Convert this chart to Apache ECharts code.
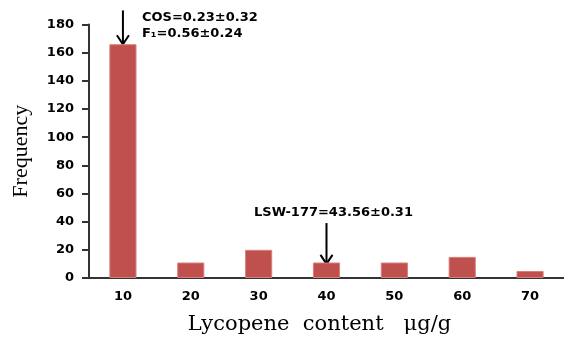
<!DOCTYPE html>
<html>
<head>
<meta charset="utf-8">
<script src="https://cdn.jsdelivr.net/npm/echarts@6/dist/echarts.min.js"></script>
<style>
  html, body { margin: 0; padding: 0; background: #fff; }
  #main { width: 564px; height: 340px; }
</style>
</head>
<body>
<div id="main"></div>
<script>
// lycopene content histogram
var categories = ['10', '20', '30', '40', '50', '60', '70'];
var frequency = [166, 11, 20, 11, 11, 15, 5];
var yTicks = { min: 0, max: 180, interval: 20 };

// arrows: [category index, start value, end value]
var arrowCos = [0, 190, 166];
var arrowLsw = [3, 39, 10];
var cosText = ['COS=0.23\u00B10.32', 'F\u2081=0.56\u00B10.24'];
var lswText = 'LSW-177=43.56\u00B10.31';

var chart = echarts.init(document.getElementById('main'), null, { renderer: 'canvas' });

var labelFont = {
  color: '#000',
  fontFamily: 'DejaVu Sans',
  fontWeight: 'bold',
  fontSize: 13
};

var option = {
  animation: false,
  grid: {
    left: 89,
    right: 0,
    top: 24.5,
    bottom: 61.7
  },
  xAxis: {
    type: 'category',
    data: categories,
    name: 'Lycopene  content   \u03BCg/g',
    nameLocation: 'middle',
    nameGap: 36,
    nameTextStyle: {
      color: '#000',
      fontFamily: 'DejaVu Serif',
      fontSize: 21,
      padding: [0, 14, 0, 0]
    },
    axisLine: { lineStyle: { color: '#333', width: 2 } },
    axisTick: { length: 5, lineStyle: { color: '#333', width: 2 } },
    axisLabel: Object.assign({ margin: 12 }, labelFont),
    splitLine: { show: false }
  },
  yAxis: {
    type: 'value',
    min: yTicks.min,
    max: yTicks.max,
    interval: yTicks.interval,
    name: 'Frequency',
    nameLocation: 'middle',
    nameGap: 57,
    nameTextStyle: {
      color: '#000',
      fontFamily: 'Liberation Serif',
      fontSize: 22
    },
    axisLine: { show: true, lineStyle: { color: '#333', width: 2 } },
    axisTick: { show: true, length: 7, lineStyle: { color: '#333', width: 2 } },
    axisLabel: Object.assign({ margin: 15 }, labelFont),
    splitLine: { show: false }
  },
  series: [{
    type: 'bar',
    data: frequency,
    barWidth: '40%',
    itemStyle: {
      color: '#C0504D',
      borderColor: '#D77F7C',
      borderWidth: 1
    }
  }]
};

chart.setOption(option);

// arrows and notes placed with the chart's own scales
function arrowGraphics(arrow) {
  var p1 = chart.convertToPixel({ seriesIndex: 0 }, [arrow[0], arrow[1]]);
  var p2 = chart.convertToPixel({ seriesIndex: 0 }, [arrow[0], arrow[2]]);
  var st = { stroke: '#000', lineWidth: 2 };
  return [
    { type: 'line', shape: { x1: p1[0], y1: p1[1], x2: p2[0], y2: p2[1] }, style: st },
    { type: 'polyline', shape: { points: [[p2[0] - 6, p2[1] - 9], [p2[0], p2[1]], [p2[0] + 6, p2[1] - 9]] }, style: st }
  ];
}

var a1 = chart.convertToPixel({ seriesIndex: 0 }, [arrowCos[0], arrowCos[1]]);
var a2 = chart.convertToPixel({ seriesIndex: 0 }, [arrowLsw[0], arrowLsw[1]]);
var noteStyle = {
  fill: '#000',
  fontFamily: 'DejaVu Sans',
  fontWeight: 'bold',
  fontSize: 13
};

var elements = arrowGraphics(arrowCos).concat(arrowGraphics(arrowLsw));
elements.push({
  type: 'text', x: a1[0] + 19, y: a1[1] + 7,
  style: Object.assign({ text: cosText[0], verticalAlign: 'middle' }, noteStyle)
});
elements.push({
  type: 'text', x: a1[0] + 19, y: a1[1] + 23,
  style: Object.assign({ text: cosText[1], verticalAlign: 'middle' }, noteStyle)
});
elements.push({
  type: 'text', x: a2[0] + 7, y: a2[1] - 10,
  style: Object.assign({ text: lswText, align: 'center', verticalAlign: 'middle' }, noteStyle)
});

chart.setOption({ graphic: elements });
</script>
</body>
</html>
